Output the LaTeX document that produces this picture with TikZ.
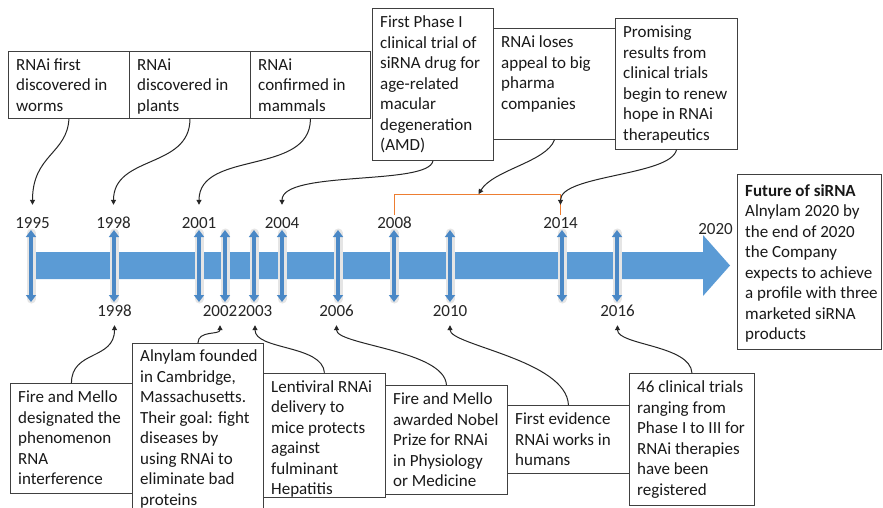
\documentclass[tikz,border=0pt]{standalone}
\usepackage{fontspec}
\setmainfont{Carlito}
\usetikzlibrary{arrows.meta}
\definecolor{barblue}{HTML}{5B9BD5}
\definecolor{mkblue}{HTML}{4A88C6}
\definecolor{brorange}{HTML}{ED7D31}
\begin{document}
\begin{tikzpicture}[x=1pt,y=-1pt,
  box/.style={draw=black!75, line width=0.9pt, fill=white, anchor=north west, inner sep=0pt},
  txt/.style={anchor=north west, align=left, inner xsep=8pt, inner ysep=5pt,
    font=\fontsize{17}{20.5}\selectfont, text=black!90},
  yr/.style={anchor=base, inner sep=2pt, text height=11pt, text depth=0pt,
    font=\fontsize{17}{20.5}\selectfont, text=black!85},
  conn/.style={draw=black!85, line width=1pt, -{Triangle[length=5pt,width=5pt]}},
  upconn/.style={conn, shorten >=10pt},
  dnconn/.style={conn, shorten >=7pt},
  glow/.style={draw=black!10, line width=9pt, line cap=round},
  yrmark/.style={draw=mkblue, line width=3.5pt,
    {Triangle[width=10pt,length=7pt]}-{Triangle[width=10pt,length=7pt]}},
  bracket/.style={draw=brorange, line width=1.2pt}
]
\useasboundingbox[fill=white] (0,0) rectangle (883,507);

% timeline bar
\fill[barblue] (35,252) -- (703,252) -- (703,235) -- (730,265.5) -- (703,296)
  -- (703,279) -- (35,279) -- cycle;

% year markers
\foreach \mx in {31,114,199,225,254,282,338,394,450,562,617}{
  \draw[glow] (\mx,233) -- (\mx,299);
  \draw[yrmark] (\mx,230) -- (\mx,302);
}

% year labels
\node[yr] (t95) at (32.5,228) {1995};
\node[yr] (t98) at (113.5,228) {1998};
\node[yr] (t01) at (199,228) {2001};
\node[yr] (t04) at (282,228) {2004};
\node[yr] (t08) at (394.5,228) {2008};
\node[yr] (t14) at (560.5,228) {2014};
\node[yr] (t20) at (715.5,234) {2020};
\node[yr] (u98) at (114.5,316) {1998};
\node[yr] (u02) at (220,316) {2002};
\node[yr] (u03) at (255,316) {2003};
\node[yr] (u06) at (336.5,316) {2006};
\node[yr] (u10) at (450,316) {2010};
\node[yr] (u16) at (617.5,316) {2016};

% top boxes
\node[box, minimum width=121pt, minimum height=67.3pt] (b1) at (8,50.7) {};
\node[txt] (b1t) at (b1.north west) {\strut RNAi first\\discovered in\\worms};
\node[box, minimum width=121pt, minimum height=67.3pt] (b2) at (129,50.7) {};
\node[txt] (b2t) at (b2.north west) {\strut RNAi\\discovered in\\plants};
\node[box, minimum width=120pt, minimum height=67.3pt] (b3) at (250,50.7) {};
\node[txt] (b3t) at (b3.north west) {\strut RNAi\\confirmed in\\mammals};
\node[box, minimum width=121pt, minimum height=151.7pt] (b4) at (372,8.3) {};
\node[txt] (b4t) at (b4.north west) {\strut First Phase I\\clinical trial of\\siRNA drug for\\age-related\\macular\\degeneration\\(AMD)};
\node[box, minimum width=122pt, minimum height=110.7pt] (b5) at (493,28.3) {};
\node[txt] (b5t) at (b5.north west) {\strut RNAi loses\\appeal to big\\pharma\\companies};
\node[box, minimum width=122pt, minimum height=130.7pt] (b6) at (615,18.3) {};
\node[txt] (b6t) at (b6.north west) {\strut Promising\\results from\\clinical trials\\begin to renew\\hope in RNAi\\therapeutics};

% future box
\node[box, minimum width=144pt, minimum height=175pt] (fb) at (737,173.5) {};
\node[txt, inner ysep=8pt] (fbt) at (fb.north west) {\strut\textbf{Future of siRNA}\\Alnylam 2020 by\\the end of 2020\\the Company\\expects to achieve\\a profile with three\\marketed siRNA\\products};

% bottom boxes
\node[box, minimum width=122pt, minimum height=110pt] (c1) at (10,383) {};
\node[txt] (c1t) at (c1.north west) {\strut Fire and Mello\\designated the\\phenomenon\\RNA\\interference};
\node[box, minimum width=131pt, minimum height=175pt] (c2) at (132,343) {};
\node[txt, inner ysep=4pt] (c2t) at (c2.north west) {\strut Alnylam founded\\in Cambridge,\\Massachusetts.\\Their goal: fight\\diseases by\\using RNAi to\\eliminate bad\\proteins};
\node[box, minimum width=122pt, minimum height=124pt] (c3) at (263,372.7) {};
\node[txt] (c3t) at (c3.north west) {\strut Lentiviral RNAi\\delivery to\\mice protects\\against\\fulminant\\Hepatitis};
\node[box, minimum width=122pt, minimum height=109pt] (c4) at (385,385) {};
\node[txt] (c4t) at (c4.north west) {\strut Fire and Mello\\awarded Nobel\\Prize for RNAi\\in Physiology\\or Medicine};
\node[box, minimum width=122pt, minimum height=68pt] (c5) at (507,405) {};
\node[txt] (c5t) at (c5.north west) {\strut First evidence\\RNAi works in\\humans};
\node[box, minimum width=125pt, minimum height=132pt] (c6) at (629,373) {};
\node[txt] (c6t) at (c6.north west) {\strut 46 clinical trials\\ranging from\\Phase I to III for\\RNAi therapies\\have been\\registered};

% orange bracket 2008-2014
\coordinate (brk) at (478,195);
\draw[bracket] (t08.north) -- ++(0,-20) -| (t14.north);

% top connectors
\draw[upconn] (b1.south) .. controls +(-2,35) and +(0,-60) .. (t95.north);
\draw[upconn] (b2.south) .. controls +(0,50) and +(0,-60) .. (t98.north);
\draw[upconn] (b3.south) .. controls +(0,57) and +(0,-65) .. (t01.north);
\draw[upconn] (b4.south) .. controls +(-4.5,25) and +(0,-45) .. (t04.north);
\draw[conn, shorten >=1pt] (b5.south) .. controls +(-8,22) and +(15,-25) .. (brk);
\draw[upconn] (b6.south) .. controls +(-6,26) and +(0,-40) .. (t14.north);

% bottom connectors
\draw[dnconn] (c1.north) .. controls +(0,-33) and +(0,42) .. (u98.south);
\draw[dnconn] (c2.north) .. controls +(0,-13) and +(0,17) .. (u02.south);
\draw[dnconn] (c3.north) .. controls +(-2,-28) and +(0,32) .. (u03.south);
\draw[dnconn] (c4.north) .. controls +(-2,-35) and +(0,27) .. (u06.south);
\draw[dnconn] (c5.north) .. controls +(-2,-45) and +(0,27) .. (u10.south);
\draw[dnconn] (c6.north) .. controls +(-1.5,-28) and +(0,27) .. (u16.south);
\end{tikzpicture}
\end{document}
